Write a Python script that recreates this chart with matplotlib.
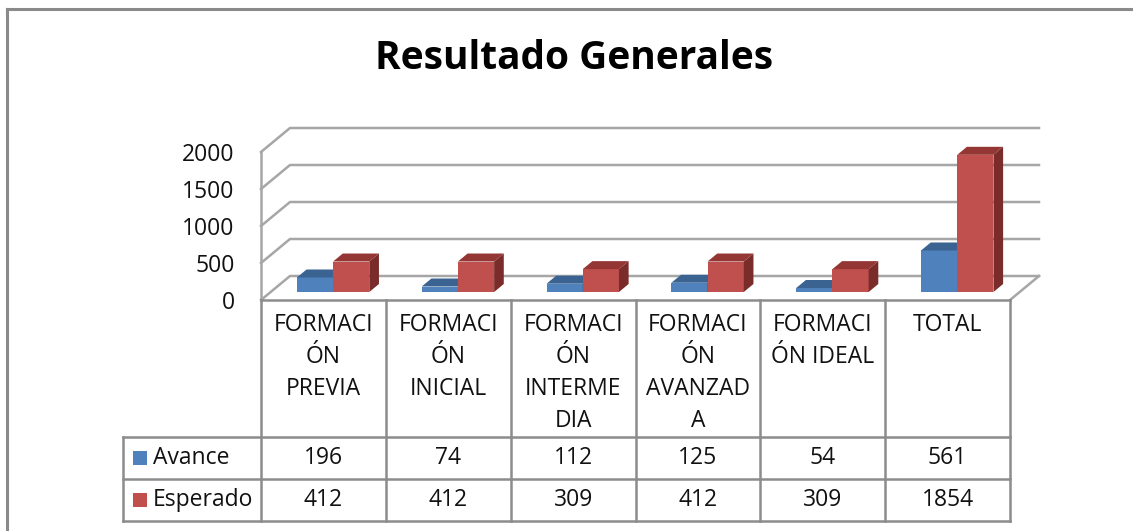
import numpy as np
import matplotlib.pyplot as plt
from matplotlib.lines import Line2D

etiquetas = ["FORMACI\nÓN\nPREVIA", "FORMACI\nÓN\nINICIAL", "FORMACI\nÓN\nINTERME\nDIA",
             "FORMACI\nÓN\nAVANZAD\nA", "FORMACI\nÓN IDEAL", "TOTAL"]
series = ["Avance", "Esperado"]
avance = [196, 74, 112, 125, 54, 561]
esperado = [412, 412, 309, 412, 309, 1854]
yticks = [0, 500, 1000, 1500, 2000]

plt.rcParams['font.family'] = ['Open Sans', 'DejaVu Sans']
txt = '#111111'

W, H = 1133, 531
fig = plt.figure(figsize=(W / 100, H / 100), dpi=100)

def fx(px):
    return px / W

def fy(py):
    return 1 - py / H

n = len(avance)
# frente de la caja 3d
ax = fig.add_axes([fx(261), fy(300), fx(1010) - fx(261), fy(152) - fy(300)])
ax.set_xlim(0, n)
ax.set_ylim(0, 2000)
DX = 29 / (749 / n)       # profundidad en unidades de datos
DY = 24 / (148 / 2000)

def p(x, y, d):
    return x + d * DX, y + d * DY

grid = '#a6a6a6'
for v in yticks:
    a, b, c = p(0, v, 0), p(0, v, 1), p(n, v, 1)
    ax.plot([a[0], b[0], c[0]], [a[1], b[1], c[1]], color=grid, lw=1.8, clip_on=False, zorder=1)
a, b = p(0, 0, 0), p(0, yticks[-1], 0)
ax.plot([a[0], b[0]], [a[1], b[1]], color=grid, lw=1.8, clip_on=False, zorder=1)
a, b = p(n, 0, 0), p(n, 0, 1)
ax.plot([a[0], b[0]], [a[1], b[1]], color=grid, lw=1.8, clip_on=False, zorder=1)

colores = [('#4f81bd', '#3a6392', '#2f5077'), ('#c0504d', '#943634', '#7a2c2a')]
bw = 0.29
d0, d1 = 1 / 3, 2 / 3
for k, vals in enumerate([avance, esperado]):
    front, top, side = colores[k]
    xc = np.arange(n) + 0.5 + (k - 0.5) * bw
    ax.bar(xc + d0 * DX, vals, width=bw, bottom=d0 * DY, color=front, zorder=3 + k, clip_on=False)
    for x, v in zip(xc, vals):
        xl, xr = x - bw / 2, x + bw / 2
        pts = [p(xl, v, d0), p(xr, v, d0), p(xr, v, d1), p(xl, v, d1)]
        ax.fill([q[0] for q in pts], [q[1] for q in pts], color=top, zorder=3 + k, clip_on=False, lw=0)
        pts = [p(xr, 0, d0), p(xr, v, d0), p(xr, v, d1), p(xr, 0, d1)]
        ax.fill([q[0] for q in pts], [q[1] for q in pts], color=side, zorder=3 + k, clip_on=False, lw=0)

ax.set_xticks([])
ax.set_yticks(yticks)
ax.set_yticklabels([str(v) for v in yticks])
ax.tick_params(axis='y', length=0, pad=19, labelsize=16.5, labelcolor=txt)
for s in ax.spines.values():
    s.set_visible(False)
ax.patch.set_alpha(0)

# tabla de datos
tx = fig.add_axes([fx(261), fy(521), fx(1010) - fx(261), fy(300) - fy(521)])
tx.set_xlim(0, n)
tx.set_ylim(221, 0)
tx.axis('off')
lc = '#8c8c8c'
xleft = (123 - 261) / (749 / n)
filas = [0, 137, 179, 221]
tx.plot([0, n], [filas[0]] * 2, color=lc, lw=1.8, clip_on=False)
for yy in filas[1:]:
    tx.plot([xleft, n], [yy] * 2, color=lc, lw=1.8, clip_on=False)
for i in range(n + 1):
    tx.plot([i, i], [0, filas[-1]], color=lc, lw=1.8, clip_on=False)
tx.plot([xleft, xleft], [filas[1], filas[-1]], color=lc, lw=1.8, clip_on=False)

for i, lab in enumerate(etiquetas):
    tx.text(i + 0.5, 13, lab, ha='center', va='top', fontsize=16.5, color=txt, linespacing=1.45)
for r, vals in enumerate([avance, esperado]):
    yc = (filas[r + 1] + filas[r + 2]) / 2
    for i, v in enumerate(vals):
        tx.text(i + 0.5, yc, str(v), ha='center', va='center', fontsize=16.5, color=txt)
    tx.plot([xleft + 0.137], [yc], marker='s', ms=10.5, color=colores[r][0], clip_on=False, mew=0)
    tx.text(xleft + 0.24, yc, series[r], ha='left', va='center', fontsize=16.5, color=txt)

fig.text(fx(574), fy(69), 'Resultado Generales', ha='center', va='baseline',
         fontsize=28, fontweight='bold', color='black')

fig.add_artist(Line2D([fx(7), fx(7)], [-0.1, fy(9)], color='#8a8a8a', lw=2.2))
fig.add_artist(Line2D([fx(7), 1.1], [fy(9), fy(9)], color='#8a8a8a', lw=2.2))

fig.savefig('out.png', dpi=100)
